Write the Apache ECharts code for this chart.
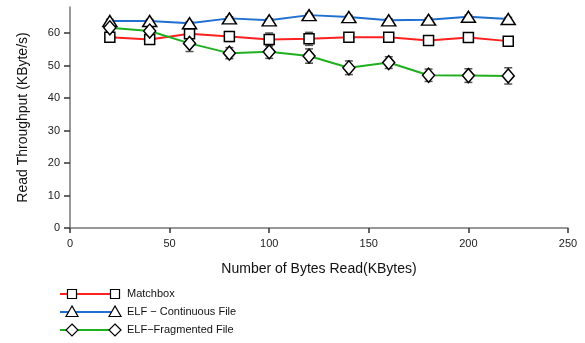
<!DOCTYPE html>
<html>
<head>
<meta charset="utf-8">
<script src="https://cdn.jsdelivr.net/npm/echarts@6/dist/echarts.min.js"></script>
<style>html,body{margin:0;padding:0;background:#fff}#c{width:585px;height:343px}</style>
</head>
<body>
<div id="c"></div>
<script>
const xValues = [20, 40, 60, 80, 100, 120, 140, 160, 180, 200, 220];
const matchbox = [58.7, 58.0, 59.8, 58.9, 58.0, 58.2, 58.7, 58.7, 57.7, 58.6, 57.5];
const matchboxErr = [0.8, 0.8, 1.2, 1.5, 2.0, 2.0, 0.5, 1.0, 1.0, 0.7, 1.2];
const elfCont = [63.7, 63.7, 63.0, 64.5, 63.9, 65.5, 64.9, 63.9, 64.1, 65.0, 64.3];
const elfContErr = [0.5, 0.5, 0.5, 0.5, 0.5, 0.5, 0.5, 0.5, 0.5, 0.5, 0.5];
const elfFrag = [61.6, 60.6, 56.8, 53.8, 54.2, 52.9, 49.3, 50.9, 47.0, 46.9, 46.8];
const elfFragErr = [1.0, 1.0, 2.5, 1.7, 2.0, 2.2, 2.1, 1.8, 1.9, 2.1, 2.5];
const yTicks = [0, 10, 20, 30, 40, 50, 60];
const seriesNames = ['Matchbox', 'ELF \u2212 Continuous File', 'ELF\u2212Fragmented File'];
const colors = ['#ff2020', '#1f6fd0', '#1eb01e'];
const symbols = ['rect', 'triangle', 'diamond'];
const symbolSizes = [[10, 10], [14, 11], [12, 14]];

const chart = echarts.init(document.getElementById('c'), null, {renderer: 'canvas'});
const font = 'Liberation Sans, Arial, Helvetica, sans-serif';
const vals = [matchbox, elfCont, elfFrag];
const errs = [matchboxErr, elfContErr, elfFragErr];

const series = [];
vals.forEach((v, i) => {
  series.push({
    type: 'custom', name: seriesNames[i] + ' err',
    data: xValues.map((x, k) => [x, v[k] - errs[i][k], v[k] + errs[i][k]]),
    renderItem: function (params, api) {
      const lo = api.coord([api.value(0), api.value(1)]);
      const hi = api.coord([api.value(0), api.value(2)]);
      const w = 4;
      const st = {stroke: '#555', lineWidth: 1.5};
      return {type: 'group', children: [
        {type: 'line', shape: {x1: lo[0], y1: lo[1], x2: hi[0], y2: hi[1]}, style: st},
        {type: 'line', shape: {x1: lo[0] - w, y1: lo[1], x2: lo[0] + w, y2: lo[1]}, style: st},
        {type: 'line', shape: {x1: hi[0] - w, y1: hi[1], x2: hi[0] + w, y2: hi[1]}, style: st}
      ]};
    },
    z: 1, animation: false, silent: true
  });
});
vals.forEach((v, i) => {
  series.push({
    type: 'line', name: seriesNames[i],
    data: xValues.map((x, k) => [x, v[k]]),
    symbol: symbols[i], symbolSize: symbolSizes[i], showAllSymbol: true,
    lineStyle: {color: colors[i], width: 2},
    itemStyle: {color: '#fff', borderColor: '#000', borderWidth: 1.5},
    z: 2 + i, animation: false
  });
});

// gnuplot-style legend built with graphic elements
const legendRows = [294, 312, 330];
const graphic = [];
const legendSym = {
  rect: (cx, cy) => ({type: 'rect', shape: {x: cx - 4.5, y: cy - 4.5, width: 9, height: 9}}),
  triangle: (cx, cy) => ({type: 'polygon', shape: {points: [[cx, cy - 6], [cx - 6, cy + 4.5], [cx + 6, cy + 4.5]]}}),
  diamond: (cx, cy) => ({type: 'polygon', shape: {points: [[cx, cy - 6], [cx + 6, cy], [cx, cy + 6], [cx - 6, cy]]}})
};
seriesNames.forEach((n, i) => {
  const y = legendRows[i];
  graphic.push({type: 'line', shape: {x1: 60, y1: y, x2: 116, y2: y}, style: {stroke: colors[i], lineWidth: 2}});
  [72, 115].forEach(cx => {
    const s = legendSym[symbols[i]](cx, y);
    s.style = {fill: '#fff', stroke: '#000', lineWidth: 1.2};
    s.z = 5;
    graphic.push(s);
  });
  graphic.push({type: 'text', x: 127, y: y, style: {text: n, font: '11px ' + font, fill: '#111', verticalAlign: 'middle'}});
});

chart.setOption({
  animation: false,
  backgroundColor: '#fff',
  grid: {left: 70, right: 17, top: 7, bottom: 115},
  xAxis: {
    type: 'value', min: 0, max: 250, interval: 50,
    name: 'Number of Bytes Read(KBytes)', nameLocation: 'middle', nameGap: 34,
    nameTextStyle: {fontFamily: font, fontSize: 14, color: '#111'},
    axisLine: {lineStyle: {color: '#777', width: 1.5}},
    axisTick: {show: true, length: 5, inside: false, lineStyle: {color: '#333', width: 1.5}},
    axisLabel: {fontFamily: font, fontSize: 11, color: '#222', margin: 10},
    splitLine: {show: false}
  },
  yAxis: {
    type: 'value', min: 0, max: 68,
    name: 'Read Throughput (KByte/s)', nameLocation: 'middle', nameGap: 40,
    nameTextStyle: {fontFamily: font, fontSize: 14, color: '#111'},
    axisLine: {show: true, lineStyle: {color: '#777', width: 1.5}},
    axisTick: {show: true, length: 6, lineStyle: {color: '#333', width: 1.5}, customValues: yTicks},
    axisLabel: {fontFamily: font, fontSize: 11, color: '#222', margin: 10, customValues: yTicks},
    splitLine: {show: false}
  },
  series: series,
  graphic: graphic
});
</script>
</body>
</html>
